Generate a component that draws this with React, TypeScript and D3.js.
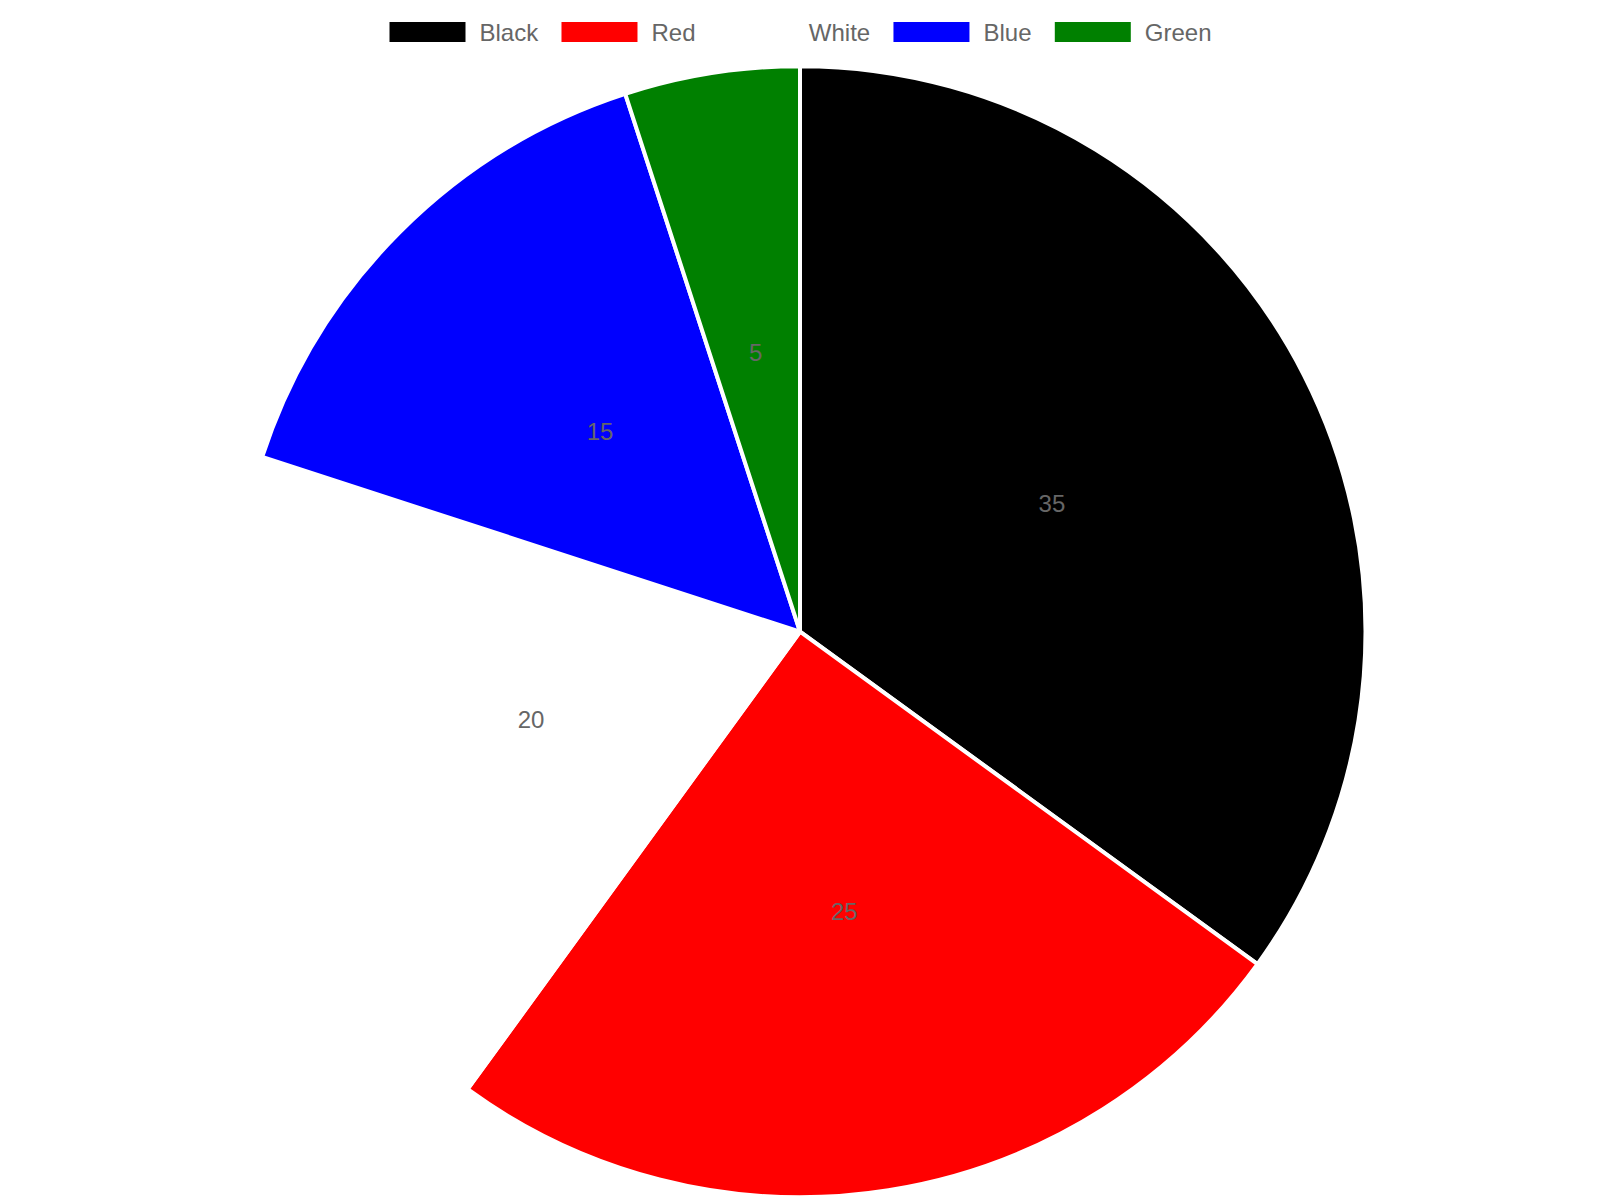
import React from "react";
import * as d3 from "d3";

const categories = ["Black", "Red", "White", "Blue", "Green"];
const values = [35, 25, 20, 15, 5];
const colors = ["#000000", "#ff0000", "#ffffff", "#0000ff", "#008000"];

const W = 1600;
const H = 1200;
const FONT = "'Liberation Sans', Arial, Helvetica, sans-serif";
const FS = 24;

function measure(text: string): number {
  const c = document.createElement("canvas").getContext("2d");
  if (!c) return text.length * 13;
  c.font = `${FS}px ${FONT}`;
  return c.measureText(text).width;
}

export default function App() {
  const cx = 800;
  const cy = 631.7;
  const r = 565.5;

  const pie = d3
    .pie<number>()
    .sort(null)
    .value((d) => d)
    .startAngle(0)
    .endAngle(2 * Math.PI);
  const arcs = pie(values);
  const arc = d3.arc<d3.PieArcDatum<number>>().innerRadius(0).outerRadius(r);

  // legend layout
  const boxW = 76;
  const boxH = 20;
  const boxGap = 14;
  const itemGap = 23.3;
  const widths = categories.map((c) => boxW + boxGap + measure(c));
  const total = d3.sum(widths) + itemGap * (categories.length - 1);
  let x0 = 800.5 - total / 2;
  const legendItems = categories.map((c, i) => {
    const x = x0;
    x0 += widths[i] + itemGap;
    return { c, x, color: colors[i] };
  });

  return (
    <svg
      width={W}
      height={H}
      style={{ position: "absolute", left: 0, top: 0, display: "block", background: "#fff" }}
      fontFamily={FONT}
    >
      <g>
        {legendItems.map((it) => (
          <g key={it.c}>
            <rect x={it.x} y={22} width={boxW} height={boxH} fill={it.color} />
            <text x={it.x + boxW + boxGap} y={41} fontSize={FS} fill="#666666">
              {it.c}
            </text>
          </g>
        ))}
      </g>
      <g transform={`translate(${cx},${cy})`}>
        {arcs.map((a, i) => (
          <path key={i} d={arc(a) || ""} fill={colors[i]} stroke="#ffffff" strokeWidth={4} strokeLinejoin="round" />
        ))}
        {arcs.map((a, i) => {
          const [lx, ly] = arc.centroid(a);
          return (
            <text key={"l" + i} x={lx} y={ly + FS * 0.36} textAnchor="middle" fontSize={FS} fill="#666666">
              {values[i]}
            </text>
          );
        })}
      </g>
    </svg>
  );
}
